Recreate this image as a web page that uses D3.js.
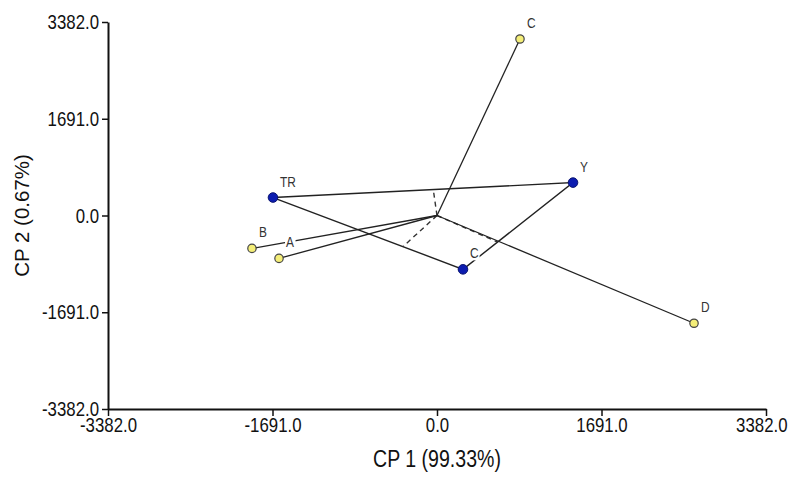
<!DOCTYPE html>
<html>
<head>
<meta charset="utf-8">
<script src="https://cdn.jsdelivr.net/npm/d3@7"></script>
<style>
  html, body { margin: 0; padding: 0; background: #fff; }
  svg { display: block; }
  .tick text { font-family: "Liberation Sans", Arial, sans-serif; font-size: 21px; fill: #111; }
</style>
</head>
<body>
<div id="chart"></div>
<script>
// genotypes (blue) and environments (yellow), biplot scores
const genoNames = ["TR", "Y", "C"];
const genoX = [-1686, 1398, 267];
const genoY = [314, 575, -941];

const envNames = ["C", "B", "A", "D"];
const envX = [853, -1902, -1624, 2642];
const envY = [3085, -575, -750, -1883];

const tickVals = [-3382, -1691, 0, 1691, 3382];

const width = 788, height = 477;

const svg = d3.select("#chart").append("svg")
  .attr("width", width)
  .attr("height", height);

const x = d3.scaleLinear().domain([-3382, 3382]).range([108, 766]);
const y = d3.scaleLinear().domain([-3382, 3382]).range([409, 22]);

// plain hyphen for negatives, like the original
const fmt = v => d3.format(".1f")(v).replace("\u2212", "-");

// squeeze text horizontally (original uses a narrow face)
function squeeze(sel, k) {
  sel.each(function () {
    const w = this.getComputedTextLength();
    d3.select(this).attr("textLength", w * k).attr("lengthAdjust", "spacingAndGlyphs");
  });
}

// axes
const gx = svg.append("g")
  .attr("transform", `translate(0,${y(-3382)})`)
  .call(d3.axisBottom(x).tickValues(tickVals).tickFormat(fmt).tickSize(7).tickSizeOuter(0).tickPadding(1));
const gy = svg.append("g")
  .attr("transform", `translate(${x(-3382)},0)`)
  .call(d3.axisLeft(y).tickValues(tickVals).tickFormat(fmt).tickSize(6).tickSizeOuter(0).tickPadding(3));

[gx, gy].forEach(g => {
  g.select(".domain").attr("stroke", "#111").attr("stroke-width", 2);
  g.selectAll(".tick line").attr("stroke", "#111").attr("stroke-width", 1.5);
  squeeze(g.selectAll(".tick text"), 0.8);
});

// last x label sits flush with the right edge
gx.selectAll(".tick text")
  .filter(d => d === tickVals[tickVals.length - 1])
  .attr("text-anchor", "end")
  .attr("x", width - x(3382) - 1);

// axis titles
svg.append("text")
  .attr("x", x(0))
  .attr("y", 467)
  .attr("text-anchor", "middle")
  .style("font-family", "\"Liberation Sans\", Arial, sans-serif")
  .style("font-size", "23px")
  .style("fill", "#111")
  .text("CP 1 (99.33%)")
  .call(squeeze, 0.85);

svg.append("text")
  .attr("transform", `translate(29,${y(0)}) rotate(-90)`)
  .attr("text-anchor", "middle")
  .style("font-family", "\"Liberation Sans\", Arial, sans-serif")
  .style("font-size", "20.5px")
  .style("fill", "#111")
  .text("CP 2 (0.67%)");

const geno = genoNames.map((n, i) => ({ name: n, x: genoX[i], y: genoY[i] }));
const envs = envNames.map((n, i) => ({ name: n, x: envX[i], y: envY[i] }));

// polygon around genotypes
const plot = svg.append("g");
const poly = geno.concat([geno[0]]);
plot.append("path")
  .attr("d", d3.line().x(d => x(d.x)).y(d => y(d.y))(poly))
  .attr("fill", "none")
  .attr("stroke", "#222")
  .attr("stroke-width", 1.4);

// perpendiculars from origin to each side (dashed)
for (let i = 0; i < geno.length; i++) {
  const p = geno[i], q = geno[(i + 1) % geno.length];
  const dx = q.x - p.x, dy = q.y - p.y;
  const t = -(p.x * dx + p.y * dy) / (dx * dx + dy * dy);
  const fx = p.x + t * dx, fy = p.y + t * dy;
  plot.append("line")
    .attr("x1", x(0)).attr("y1", y(0))
    .attr("x2", x(fx)).attr("y2", y(fy))
    .attr("stroke", "#333")
    .attr("stroke-width", 1.4)
    .attr("stroke-dasharray", "5,4");
}

// environment vectors
plot.selectAll(".env-line")
  .data(envs)
  .join("line")
  .attr("x1", x(0)).attr("y1", y(0))
  .attr("x2", d => x(d.x)).attr("y2", d => y(d.y))
  .attr("stroke", "#222")
  .attr("stroke-width", 1.3);

// labels with white background
function addLabel(d) {
  const g = plot.append("g");
  const t = g.append("text")
    .attr("x", x(d.x) + 7)
    .attr("y", y(d.y) - 11)
    .style("font-family", "\"Liberation Sans\", Arial, sans-serif")
    .style("font-size", "14px")
    .style("fill", "#333")
    .text(d.name)
    .call(squeeze, 0.85);
  const b = t.node().getBBox();
  g.insert("rect", "text")
    .attr("x", b.x - 1).attr("y", b.y + 1)
    .attr("width", b.width + 2).attr("height", b.height - 2)
    .attr("fill", "#fff");
}

// markers
plot.selectAll(".env-pt")
  .data(envs)
  .join("circle")
  .attr("cx", d => x(d.x)).attr("cy", d => y(d.y))
  .attr("r", 4.2)
  .attr("fill", "#f4ee78")
  .attr("stroke", "#444")
  .attr("stroke-width", 1.2);

plot.selectAll(".geno-pt")
  .data(geno)
  .join("circle")
  .attr("cx", d => x(d.x)).attr("cy", d => y(d.y))
  .attr("r", 4.8)
  .attr("fill", "#0c1cb0")
  .attr("stroke", "#0a1470")
  .attr("stroke-width", 1);

envs.forEach(addLabel);
geno.forEach(addLabel);
</script>
</body>
</html>
